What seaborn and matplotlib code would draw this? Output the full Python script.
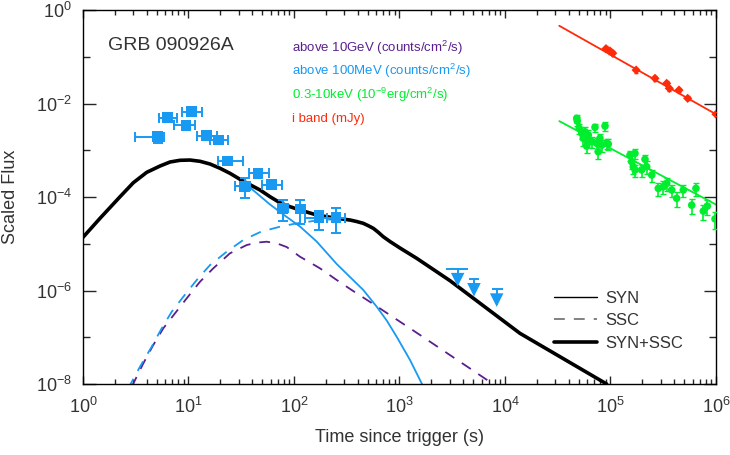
import matplotlib
matplotlib.use("Agg")
import matplotlib.pyplot as plt
import numpy as np
import pandas as pd
import seaborn as sns
from matplotlib.lines import Line2D
from matplotlib.ticker import FixedLocator, LogFormatterSciNotation, NullFormatter

# ---- LAT > 100 MeV light curve (counts/cm^2/s)
lat_t = [5.1, 6.3, 9.5, 10.7, 14.9, 19.2, 23.3, 34.1, 45.6, 61.5, 78, 114, 173, 250]
lat_t_lo = [3.1, 5.3, 7.3, 8.6, 12.1, 16.0, 19.2, 27.6, 37.7, 50, 71, 104, 127, 204]
lat_t_hi = [5.8, 7.8, 11.4, 13.3, 18.5, 23.8, 33.1, 38.3, 58.3, 76.4, 88, 128, 236, 304]
lat_f = [1.95e-3, 5.0e-3, 3.4e-3, 6.7e-3, 2.05e-3, 1.66e-3, 5.9e-4, 1.69e-4,
         3.2e-4, 1.83e-4, 5.7e-5, 5.5e-5, 3.6e-5, 3.6e-5]
lat_f_lo = [1.4e-3, 4.3e-3, 2.8e-3, 5.8e-3, 1.7e-3, 1.35e-3, 4.8e-4, 9.5e-5,
            2.6e-4, 1.45e-4, 3.0e-5, 2.6e-5, 2.0e-5, 1.7e-5]
lat_f_hi = [2.5e-3, 5.8e-3, 4.0e-3, 7.6e-3, 2.5e-3, 2.0e-3, 7.3e-4, 2.55e-4,
            3.9e-4, 2.3e-4, 8.6e-5, 8.7e-5, 5.0e-5, 5.9e-5]

# ---- LAT upper limits
ul_t = [3560, 5080, 8340]
ul_t_lo = [2760, 4560, 7480]
ul_t_hi = [4460, 5670, 9640]
ul_f = [2.9e-6, 1.76e-6, 1.06e-6]

# ---- XRT 0.3-10 keV
xrt_t = [47860, 48420, 50580, 53330, 55210, 57280, 59430, 61660, 59430, 66370,
         71290, 73960, 76560, 79430, 82600, 88720, 92040, 95280, 153100, 158900,
         164400, 170600, 171000, 197200, 212300, 220300, 246000, 283800, 317000,
         341200, 380200, 423600, 489800, 588800, 645700, 758600, 827900, 979500]
xrt_f = [4.82e-3, 4.23e-3, 2.94e-3, 2.30e-3, 1.80e-3, 2.49e-3, 1.66e-3, 2.12e-3,
         1.23e-3, 1.52e-3, 3.10e-3, 1.41e-3, 9.3e-4, 1.80e-3, 1.29e-3, 3.30e-3,
         1.41e-3, 1.36e-3, 7.9e-4, 5.7e-4, 4.45e-4, 8.6e-4, 3.8e-4, 3.8e-4,
         6.4e-4, 4.45e-4, 2.96e-4, 1.53e-4, 1.66e-4, 1.96e-4, 1.41e-4, 9.4e-5,
         1.41e-4, 6.7e-5, 1.53e-4, 5.0e-5, 6.4e-5, 3.4e-5]
xrt_err = [0.2, 0.2, 0.25, 0.25, 0.3, 0.25, 0.3, 0.25, 0.3, 0.25,
           0.2, 0.3, 0.3, 0.25, 0.3, 0.2, 0.25, 0.25, 0.25, 0.3,
           0.3, 0.25, 0.3, 0.3, 0.25, 0.3, 0.3, 0.3, 0.3, 0.3,
           0.3, 0.35, 0.3, 0.35, 0.3, 0.35, 0.35, 0.4]

# ---- optical i band (mJy)
opt_t = [90600, 98900, 105000, 175000, 264000, 341000, 361000, 446000, 539000, 1.0e6]
opt_f = [0.149, 0.133, 0.119, 0.052, 0.0346, 0.027, 0.0211, 0.0194, 0.0129, 0.0059]
opt_err = [0.12, 0.12, 0.12, 0.12, 0.12, 0.12, 0.12, 0.1, 0.1, 0.1]

# ---- power-law fits
opt_fit_t = [3.27e4, 1.0e6]
opt_fit_f = [0.46, 5.9e-3]
xrt_fit_t = [3.27e4, 1.0e6]
xrt_fit_f = [4.2e-3, 6.9e-5]

# ---- model curves as log10(t), log10(flux)
tot_lt = [0.0, 0.161, 0.351, 0.477, 0.604, 0.730, 0.825, 0.919, 1.014, 1.109,
          1.204, 1.299, 1.393, 1.488, 1.583, 1.678, 1.773, 1.867, 1.962, 2.057,
          2.215, 2.405, 2.531, 2.594, 2.657, 2.701, 2.752, 2.796, 2.846, 2.910,
          3.005, 3.163, 3.479, 4.142, 4.964]
tot_lf = [-4.862, -4.456, -3.994, -3.694, -3.472, -3.337, -3.251, -3.215, -3.209, -3.236,
          -3.294, -3.386, -3.493, -3.621, -3.737, -3.850, -3.994, -4.122, -4.207, -4.278,
          -4.385, -4.456, -4.492, -4.524, -4.563, -4.610, -4.670, -4.749, -4.849, -4.952,
          -5.091, -5.311, -5.790, -6.916, -8.0]

syn_lt = [0.0, 0.161, 0.351, 0.477, 0.604, 0.730, 0.825, 0.919, 1.014, 1.109,
          1.204, 1.299, 1.393, 1.488, 1.583, 1.678, 1.773, 1.899, 2.057, 2.215,
          2.405, 2.531, 2.657, 2.784, 2.879, 2.973, 3.100, 3.226]
syn_lf = [-4.862, -4.456, -3.994, -3.694, -3.472, -3.337, -3.251, -3.215, -3.209, -3.236,
          -3.294, -3.386, -3.493, -3.621, -3.797, -3.979, -4.160, -4.374, -4.631, -4.952,
          -5.433, -5.711, -5.989, -6.346, -6.642, -6.988, -7.487, -8.058]

ssc_hi_lt = [0.429, 0.540, 0.651, 0.746, 0.841, 0.951, 1.078, 1.204, 1.362, 1.519,
             1.687, 1.867, 2.026, 2.215, 2.405, 2.531, 2.594, 2.657, 2.701, 2.752,
             2.796, 2.846, 2.910, 3.005, 3.163, 3.479, 4.142, 4.964]
ssc_hi_lf = [-8.092, -7.630, -7.202, -6.809, -6.454, -6.133, -5.775, -5.455, -5.170, -4.920,
             -4.742, -4.635, -4.563, -4.503, -4.470, -4.503, -4.530, -4.567, -4.612, -4.672,
             -4.750, -4.850, -4.953, -5.092, -5.311, -5.790, -6.916, -8.0]

ssc_gev_lt = [0.462, 0.572, 0.666, 0.761, 0.872, 0.983, 1.109, 1.235, 1.393, 1.552,
              1.650, 1.741, 1.836, 1.931, 2.057, 2.246, 2.405, 2.547, 2.752, 2.973,
              3.194, 3.415, 3.637, 3.874]
ssc_gev_lf = [-8.058, -7.557, -7.166, -6.809, -6.488, -6.167, -5.812, -5.525, -5.204, -5.027,
              -4.975, -4.956, -4.990, -5.070, -5.277, -5.525, -5.775, -5.990, -6.290, -6.620,
              -6.950, -7.285, -7.620, -7.980]

C_GEV = "#5a1f8c"
C_LAT = "#1899f2"
C_XRT = "#00ee2e"
C_OPT = "#ff2a0a"
C_TXT = "#333333"

sns.set_style("ticks")
plt.rcParams["font.family"] = ["Liberation Sans", "DejaVu Sans"]
plt.rcParams["mathtext.default"] = "regular"

fig = plt.figure(figsize=(7.3, 4.55), dpi=100)
ax = fig.add_axes([0.1137, 0.156, 0.8671, 0.822])
ax.set_xscale("log")
ax.set_yscale("log")

curves = [
    (ssc_gev_lt, ssc_gev_lf, C_GEV, 1.3, (0, (6, 5))),
    (ssc_hi_lt, ssc_hi_lf, C_LAT, 1.3, (0, (6, 5))),
    (syn_lt, syn_lf, C_LAT, 1.3, "-"),
    (tot_lt, tot_lf, "black", 2.6, "-"),
]
for lt, lf, c, lw, ls in curves:
    d = pd.DataFrame({"t": np.power(10.0, lt), "f": np.power(10.0, lf)})
    sns.lineplot(data=d, x="t", y="f", ax=ax, color=c, linewidth=lw,
                 linestyle=ls, sort=False, estimator=None)

# fitted power laws
for t, f, c in [(opt_fit_t, opt_fit_f, C_OPT), (xrt_fit_t, xrt_fit_f, C_XRT)]:
    sns.lineplot(x=t, y=f, ax=ax, color=c, linewidth=1.3, sort=False, estimator=None)

# LAT points
lat = pd.DataFrame({"t": lat_t, "f": lat_f})
xe = [np.subtract(lat_t, lat_t_lo), np.subtract(lat_t_hi, lat_t)]
ye = [np.subtract(lat_f, lat_f_lo), np.subtract(lat_f_hi, lat_f)]
ax.errorbar(lat_t, lat_f, xerr=xe, yerr=ye, fmt="none", ecolor=C_LAT,
            elinewidth=1.4, capsize=3.5, capthick=1.4, zorder=4)
sns.scatterplot(data=lat, x="t", y="f", ax=ax, marker="s", color=C_LAT,
                s=58, edgecolor="none", zorder=5)

# upper limits
ulx = [np.subtract(ul_t, ul_t_lo), np.subtract(ul_t_hi, ul_t)]
ax.errorbar(ul_t, ul_f, xerr=ulx, fmt="none", ecolor=C_LAT, elinewidth=1.4,
            capsize=0, zorder=4)
ul_tip = np.array(ul_f) / 10 ** 0.33
ax.vlines(ul_t, ul_tip, ul_f, color=C_LAT, linewidth=1.4, zorder=4)
sns.scatterplot(x=ul_t, y=ul_tip * 10 ** 0.1, ax=ax, marker="v", color=C_LAT,
                s=95, edgecolor="none", zorder=5)

# XRT
ax.errorbar(xrt_t, xrt_f, yerr=np.array(xrt_f) * np.array(xrt_err), fmt="none",
            ecolor=C_XRT, elinewidth=1.2, capsize=2.5, zorder=4)
sns.scatterplot(x=xrt_t, y=xrt_f, ax=ax, marker="o", color=C_XRT, s=30,
                edgecolor="none", zorder=5)

# optical
ax.errorbar(opt_t, opt_f, yerr=np.array(opt_f) * np.array(opt_err), fmt="none",
            ecolor=C_OPT, elinewidth=1.2, capsize=1.5, zorder=4)
sns.scatterplot(x=opt_t, y=opt_f, ax=ax, marker="D", color=C_OPT, s=22,
                edgecolor="none", zorder=5)

ax.set_xlim(1, 1e6)
ax.set_ylim(1e-8, 1)

decades = [1e0, 1e1, 1e2, 1e3, 1e4, 1e5, 1e6]
ax.set_xticks(decades)
ax.xaxis.set_minor_locator(FixedLocator([d * k for d in decades[:-1] for k in range(2, 10)]))
ax.xaxis.set_minor_formatter(NullFormatter())
ax.set_yticks([1e0, 1e-2, 1e-4, 1e-6, 1e-8])
ax.set_yticks([1e-1, 1e-3, 1e-5, 1e-7], minor=True)
ax.xaxis.set_major_formatter(LogFormatterSciNotation())
ax.yaxis.set_major_formatter(LogFormatterSciNotation())
ax.yaxis.set_minor_formatter(NullFormatter())

ax.tick_params(which="both", direction="in", top=True, right=True,
               labelsize=13, labelcolor=C_TXT, width=1)
ax.tick_params(axis="y", which="major", length=9, pad=8)
ax.tick_params(axis="y", which="minor", length=5)
ax.tick_params(axis="x", which="major", length=6, pad=9)
ax.tick_params(axis="x", which="minor", length=3.5)
for s in ax.spines.values():
    s.set_linewidth(1)
    s.set_color("black")

ax.set_xlabel("Time since trigger (s)", fontsize=13, color=C_TXT, labelpad=9)
ax.set_ylabel("Scaled Flux", fontsize=13, color=C_TXT, labelpad=12)

ax.text(0.04, 0.905, "GRB 090926A", transform=ax.transAxes, fontsize=14,
        color=C_TXT, va="center")

band_labels = ["above 10GeV (counts/cm$^2$/s)",
               "above 100MeV (counts/cm$^2$/s)",
               "0.3-10keV (10$^{-9}$erg/cm$^2$/s)",
               "i band (mJy)"]
band_colors = [C_GEV, C_LAT, C_XRT, C_OPT]
for i, (lab, c) in enumerate(zip(band_labels, band_colors)):
    ax.text(0.33, 0.9 - i * 0.064, lab, transform=ax.transAxes, fontsize=9.5,
            color=c, va="center")

handles = [Line2D([], [], color="black", lw=1.0),
           Line2D([], [], color="#777777", lw=1.3, ls=(0, (6, 5))),
           Line2D([], [], color="black", lw=2.6)]
leg = ax.legend(handles, ["SYN", "SSC", "SYN+SSC"], loc="upper left",
                bbox_to_anchor=(0.72, 0.29), frameon=False, fontsize=12,
                handlelength=2.6, labelspacing=0.45, handletextpad=0.5)
for t in leg.get_texts():
    t.set_color(C_TXT)

fig.savefig("out.png", dpi=100)
